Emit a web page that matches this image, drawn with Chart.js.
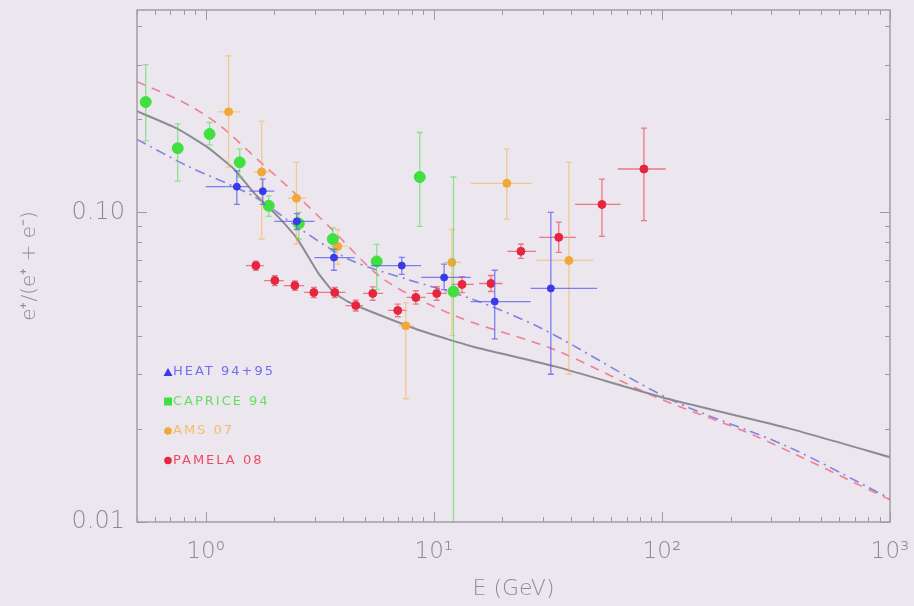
<!DOCTYPE html>
<html>
<head>
<meta charset="utf-8">
<script src="https://cdn.jsdelivr.net/npm/chart.js@4.4.0/dist/chart.umd.min.js"></script>
<style>
  html, body { margin: 0; padding: 0; background: #ece7ef; }
  #wrap { width: 914px; height: 606px; }
</style>
</head>
<body>
<div id="wrap"><canvas id="c" width="914" height="606"></canvas></div>
<script>
// values
const xDecades = [1, 10, 100, 1000];
const xTickLabels = ['10\u2070', '10\u00B9', '10\u00B2', '10\u00B3'];
const yDecades = [0.01, 0.1];
const yTickLabels = ['0.01', '0.10'];

// HEAT 94+95
const heatE    = [1.37, 1.78, 2.51, 3.65, 7.24, 11.1, 18.5, 32.6];
const heatEmin = [1.0, 1.55, 2.0, 3.0, 5.3, 8.8, 14.5, 26.6];
const heatEmax = [1.55, 2.0, 3.0, 4.5, 8.8, 14.5, 26.6, 52];
const heatFrac = [0.121, 0.117, 0.0935, 0.0714, 0.0673, 0.0616, 0.0515, 0.0568];
const heatLo   = [0.106, 0.106, 0.088, 0.065, 0.063, 0.0563, 0.039, 0.030];
const heatHi   = [0.136, 0.128, 0.099, 0.076, 0.0715, 0.068, 0.065, 0.100];

// CAPRICE 94
const capriceE    = [0.546, 0.754, 1.04, 1.41, 1.89, 2.56, 3.61, 5.62, 8.68, 12.2];
const capriceFrac = [0.227, 0.161, 0.179, 0.145, 0.105, 0.092, 0.082, 0.0694, 0.130, 0.0555];
const capriceLo   = [0.17, 0.126, 0.165, 0.13, 0.097, 0.082, 0.075, 0.0563, 0.090, 0.005];
const capriceHi   = [0.30, 0.193, 0.195, 0.16, 0.113, 0.10, 0.089, 0.0788, 0.181, 0.130];

// AMS 07
const amsE    = [1.26, 1.76, 2.50, 3.79, 7.54, 12.0, 20.9, 39.1];
const amsEmin = [1.13, 1.62, 2.3, 3.5, 7.0, 11.0, 14.5, 28];
const amsEmax = [1.42, 1.95, 2.75, 4.2, 8.2, 13.2, 27, 50];
const amsFrac = [0.211, 0.135, 0.111, 0.0776, 0.043, 0.0689, 0.124, 0.0699];
const amsLo   = [0.14, 0.082, 0.079, 0.068, 0.025, 0.040, 0.095, 0.03];
const amsHi   = [0.32, 0.197, 0.145, 0.088, 0.051, 0.088, 0.16, 0.145];

// PAMELA 08
const pamelaE    = [1.66, 2.01, 2.46, 2.98, 3.68, 4.55, 5.4, 6.95, 8.34, 10.3, 13.3, 17.8, 24.1, 35.3, 54.6, 83.4];
const pamelaEmin = [1.5, 1.8, 2.2, 2.7, 3.3, 4.1, 4.9, 6.3, 7.6, 9.3, 12, 15.8, 21, 29, 41.6, 64];
const pamelaEmax = [1.8, 2.2, 2.7, 3.3, 4.1, 4.9, 6.0, 7.6, 9.2, 11.4, 15, 20, 28, 42, 66, 104];
const pamelaFrac = [0.0673, 0.0602, 0.058, 0.0551, 0.0551, 0.050, 0.0547, 0.0482, 0.0531, 0.0547, 0.0585, 0.0589, 0.0748, 0.083, 0.106, 0.138];
const pamelaLo   = [0.065, 0.058, 0.056, 0.053, 0.053, 0.048, 0.052, 0.046, 0.0505, 0.052, 0.055, 0.0555, 0.071, 0.0742, 0.0836, 0.094];
const pamelaHi   = [0.0696, 0.0624, 0.060, 0.0572, 0.0572, 0.052, 0.0574, 0.0505, 0.0558, 0.0575, 0.062, 0.0625, 0.079, 0.093, 0.128, 0.187];

// model curves
const secondaryE    = [0.5, 0.754, 1.02, 1.33, 1.62, 2.07, 2.53, 3.10, 3.65, 4.2, 5.46, 9.01, 14.9, 34, 110, 357, 1000];
const secondaryFrac = [0.212, 0.186, 0.162, 0.138, 0.116, 0.097, 0.0818, 0.064, 0.0551, 0.0515, 0.0474, 0.0412, 0.0368, 0.0318, 0.0248, 0.0201, 0.0162];
const redModelE     = [0.5, 0.777, 1.13, 1.69, 2.29, 3.5, 6.04, 12.7, 33.9, 93, 255, 1000];
const redModelFrac  = [0.264, 0.229, 0.193, 0.148, 0.121, 0.0895, 0.0607, 0.046, 0.036, 0.0254, 0.0190, 0.0118];
const blueModelE    = [0.5, 0.834, 1.62, 2.61, 4.33, 7.69, 14.9, 30, 110, 357, 1000];
const blueModelFrac = [0.172, 0.141, 0.1127, 0.0881, 0.070, 0.0607, 0.0523, 0.0420, 0.0248, 0.0175, 0.0119];

const TXT = '#8e8c92';
const FONT = '"DejaVu Sans", "Liberation Sans", sans-serif';

function pts(xs, ys, xmin, xmax, lo, hi) {
    return xs.map((x, i) => ({
        x: x, y: ys[i],
        xMin: xmin ? xmin[i] : null, xMax: xmax ? xmax[i] : null,
        yMin: lo ? lo[i] : null, yMax: hi ? hi[i] : null
    }));
}

function line(xs, ys) {
    return xs.map((x, i) => ({ x: x, y: ys[i] }));
}

// every 1..9 multiple between lo and hi (minor marks on the frame)
function minorValues(lo, hi) {
    const out = [];
    for (let d = Math.pow(10, Math.floor(Math.log10(lo))); d < hi * 1.0001; d *= 10) {
        for (let k = 1; k <= 9; k++) {
            const v = d * k;
            if (v >= lo * 0.9999 && v <= hi * 1.0001) out.push(v);
        }
    }
    return out;
}

const errorBars = {
    id: 'errorBars',
    beforeDatasetDraw(chart, args) {
        const ds = chart.data.datasets[args.index];
        if (!ds.errColor) return;
        const ctx = chart.ctx, xs = chart.scales.x, ys = chart.scales.y, a = chart.chartArea;
        ctx.save();
        ctx.beginPath();
        ctx.rect(a.left, a.top, a.right - a.left, a.bottom - a.top);
        ctx.clip();
        ctx.strokeStyle = ds.errColor;
        ctx.lineWidth = 1.3;
        ds.data.forEach(p => {
            const px = xs.getPixelForValue(p.x), py = ys.getPixelForValue(p.y);
            ctx.beginPath();
            if (p.xMin != null) {
                ctx.moveTo(xs.getPixelForValue(p.xMin), py);
                ctx.lineTo(xs.getPixelForValue(p.xMax), py);
            }
            if (p.yMin != null) {
                const y1 = ys.getPixelForValue(p.yMin), y2 = ys.getPixelForValue(p.yMax);
                ctx.moveTo(px, y1); ctx.lineTo(px, y2);
                ctx.moveTo(px - 3, y1); ctx.lineTo(px + 3, y1);
                ctx.moveTo(px - 3, y2); ctx.lineTo(px + 3, y2);
            }
            ctx.stroke();
        });
        ctx.restore();
    }
};

const frame = {
    id: 'frame',
    afterDatasetsDraw(chart) {
        const ctx = chart.ctx, a = chart.chartArea, xs = chart.scales.x, ys = chart.scales.y;
        ctx.save();
        ctx.strokeStyle = '#9c9aa2';
        ctx.lineWidth = 1.4;
        ctx.strokeRect(a.left, a.top, a.right - a.left, a.bottom - a.top);
        ctx.lineWidth = 1;
        ctx.beginPath();
        minorValues(xs.min, xs.max).forEach(v => {
            const px = Math.round(xs.getPixelForValue(v)) + 0.5;
            const len = xDecades.includes(v) ? 10 : 5;
            ctx.moveTo(px, a.bottom); ctx.lineTo(px, a.bottom - len);
            ctx.moveTo(px, a.top); ctx.lineTo(px, a.top + len);
        });
        minorValues(ys.min, ys.max).forEach(v => {
            const py = Math.round(ys.getPixelForValue(v)) + 0.5;
            const len = yDecades.some(d => Math.abs(d - v) < 1e-9) ? 10 : 5;
            ctx.moveTo(a.left, py); ctx.lineTo(a.left + len, py);
            ctx.moveTo(a.right, py); ctx.lineTo(a.right - len, py);
        });
        ctx.stroke();
        ctx.restore();
    }
};

const insideLegend = {
    id: 'insideLegend',
    afterDraw(chart) {
        const ctx = chart.ctx, a = chart.chartArea;
        const items = chart.data.datasets.filter(d => d.legendShape);
        ctx.save();
        ctx.font = '13px ' + FONT;
        ctx.letterSpacing = '2px';
        ctx.textBaseline = 'middle';
        items.forEach((d, i) => {
            const x = a.left + 31, y = a.top + 362 + i * 29.5;
            ctx.fillStyle = d.backgroundColor;
            ctx.beginPath();
            if (d.legendShape === 'triangle') {
                ctx.moveTo(x, y - 4); ctx.lineTo(x + 4.5, y + 4); ctx.lineTo(x - 4.5, y + 4);
            } else if (d.legendShape === 'rect') {
                ctx.rect(x - 4, y - 4, 8, 8);
            } else {
                ctx.arc(x, y, 3.8, 0, Math.PI * 2);
            }
            ctx.fill();
            ctx.fillStyle = d.legendText;
            ctx.fillText(d.label, x + 5, y);
        });
        ctx.restore();
    }
};

new Chart(document.getElementById('c'), {
    type: 'scatter',
    data: {
        datasets: [
            { label: 'HEAT 94+95', data: pts(heatE, heatFrac, heatEmin, heatEmax, heatLo, heatHi),
              backgroundColor: '#3a3ae6', borderColor: '#3a3ae6', pointRadius: 3.5,
              errColor: 'rgba(90,90,240,0.75)', legendShape: 'triangle', legendText: '#6f6ff0', order: 1 },
            { label: 'CAPRICE 94', data: pts(capriceE, capriceFrac, null, null, capriceLo, capriceHi),
              backgroundColor: '#3fe03f', borderColor: '#3fe03f', pointRadius: 5.5,
              errColor: 'rgba(80,220,80,0.6)', legendShape: 'rect', legendText: '#62e062', order: 1 },
            { label: 'AMS 07', data: pts(amsE, amsFrac, amsEmin, amsEmax, amsLo, amsHi),
              backgroundColor: '#f0a838', borderColor: '#f0a838', pointRadius: 4,
              errColor: 'rgba(245,180,80,0.6)', legendShape: 'circle', legendText: '#f2bd6a', order: 1 },
            { label: 'PAMELA 08', data: pts(pamelaE, pamelaFrac, pamelaEmin, pamelaEmax, pamelaLo, pamelaHi),
              backgroundColor: '#e6263e', borderColor: '#e6263e', pointRadius: 4,
              errColor: 'rgba(240,70,90,0.7)', legendShape: 'circle', legendText: '#f04a62', order: 1 },
            { label: 'secondary', data: line(secondaryE, secondaryFrac), showLine: true, pointRadius: 0,
              borderColor: '#8d8b92', borderWidth: 2, tension: 0.15, order: 5 },
            { label: 'model red', data: line(redModelE, redModelFrac), showLine: true, pointRadius: 0,
              borderColor: 'rgba(240,110,130,0.85)', borderWidth: 1.6, borderDash: [9, 7], tension: 0.3, order: 5 },
            { label: 'model blue', data: line(blueModelE, blueModelFrac), showLine: true, pointRadius: 0,
              borderColor: 'rgba(110,110,225,0.85)', borderWidth: 1.6, borderDash: [10, 5, 2, 5], tension: 0.3, order: 5 }
        ]
    },
    options: {
        responsive: false,
        animation: false,
        devicePixelRatio: 1,
        layout: { padding: { top: 10, right: 24, left: 0, bottom: 0 } },
        plugins: { legend: { display: false }, tooltip: { enabled: false } },
        scales: {
            x: {
                type: 'logarithmic', min: 0.5, max: 1000,
                afterFit: s => { s.height = 84; s.paddingLeft = 0; s.paddingRight = 0; },
                afterBuildTicks: s => { s.ticks = xDecades.map(v => ({ value: v })); },
                grid: { display: false, drawTicks: false },
                border: { display: false },
                ticks: {
                    autoSkip: false, maxRotation: 0, padding: 16, color: TXT,
                    font: { family: FONT, size: 23, weight: '200' },
                    callback: v => xTickLabels[xDecades.indexOf(v)]
                },
                title: { display: true, text: 'E (GeV)', color: TXT, padding: { top: 4, bottom: 4 },
                         font: { family: FONT, size: 22, weight: '200' } }
            },
            y: {
                type: 'logarithmic', min: 0.01, max: 0.45,
                afterFit: s => { s.width = 137; s.paddingTop = 0; s.paddingBottom = 0; },
                afterBuildTicks: s => { s.ticks = yDecades.map(v => ({ value: v })); },
                grid: { display: false, drawTicks: false },
                border: { display: false },
                ticks: {
                    autoSkip: false, padding: 12, color: TXT,
                    font: { family: FONT, size: 24, weight: '200' },
                    callback: v => yTickLabels[yDecades.findIndex(d => Math.abs(d - v) < 1e-9)]
                },
                title: { display: true, text: 'e\u207A/(e\u207A + e\u207B)', color: TXT, padding: { top: 18, bottom: 4 },
                         font: { family: FONT, size: 20, weight: '200' } }
            }
        }
    },
    plugins: [errorBars, frame, insideLegend]
});
</script>
</body>
</html>
